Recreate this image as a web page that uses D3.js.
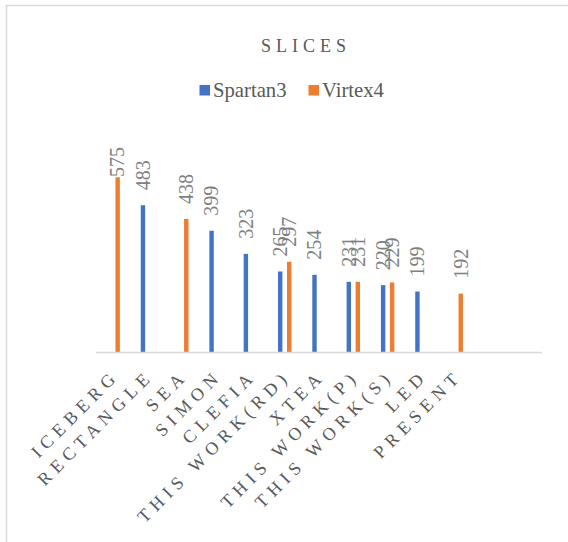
<!DOCTYPE html>
<html>
<head>
<meta charset="utf-8">
<script src="https://cdn.jsdelivr.net/npm/d3@7"></script>
<style>
  body { margin: 0; background: #fff; }
  svg { display: block; }
</style>
</head>
<body>
<svg id="chart" width="568" height="542"></svg>
<script>
// categories (last two are empty slots on the axis)
var categories = ["ICEBERG", "RECTANGLE", "SEA", "SIMON", "CLEFIA", "THIS WORK(RD)",
    "XTEA", "THIS WORK(P)", "THIS WORK(S)", "LED", "PRESENT", "", ""];
var spartan3 = [null, 483, null, 399, 323, 265, 254, 231, 220, 199, null, null, null];
var virtex4 = [575, null, 438, null, null, 297, null, 231, 229, null, 192, null, null];
var seriesNames = ["Spartan3", "Virtex4"];
var seriesColors = ["#4472c4", "#ed7d31"];
var yMax = 700;

var font = "'Liberation Serif'";
var svg = d3.select("#chart");

var x = d3.scaleBand()
    .domain(d3.range(categories.length))
    .range([96, 542])
    .padding(0);

var y = d3.scaleLinear()
    .domain([0, yMax])
    .range([352, 139.3]);

var barW = 4.4,
    offset = 4.5,
    labelGap = 15,
    labelTop = 147;

// chart border (cropped on the right and bottom)
svg.append("rect")
    .attr("x", 6.5).attr("y", 5.5)
    .attr("width", 600).attr("height", 600)
    .attr("fill", "none")
    .attr("stroke", "#d9d9d9")
    .attr("stroke-width", 1.5);

// title
svg.append("text")
    .attr("x", 261).attr("y", 52)
    .style("font-family", font)
    .attr("font-size", 18)
    .attr("letter-spacing", "5px")
    .attr("fill", "#595959")
    .text("SLICES");

// legend
var legendX = [199.5, 308.5];
var legend = svg.append("g").selectAll("g")
    .data(seriesNames)
    .enter().append("g")
    .attr("transform", function(d, i){ return "translate(" + legendX[i] + ",0)"; });
legend.append("rect")
    .attr("x", 0).attr("y", 85)
    .attr("width", 10.5).attr("height", 10.5)
    .attr("fill", function(d, i){ return seriesColors[i]; });
legend.append("text")
    .attr("x", 13.5).attr("y", 96.5)
    .style("font-family", font)
    .attr("font-size", 20.7)
    .attr("fill", "#595959")
    .text(function(d){ return d; });

// bars
var series = [spartan3, virtex4];
var bars = [];
series.forEach(function(vals, si){
    vals.forEach(function(v, i){
        if(v === null) return;
        bars.push({ cat: i, value: v, s: si });
    });
});

var barX = function(d){
    return x(d.cat) + x.bandwidth() / 2 + (d.s === 0 ? -offset : offset);
};

svg.append("g")
    .selectAll("rect")
    .data(bars)
    .enter().append("rect")
    .attr("x", function(d){ return barX(d) - barW / 2; })
    .attr("y", function(d){ return y(d.value); })
    .attr("width", barW)
    .attr("height", function(d){ return y(0) - y(d.value); })
    .attr("fill", function(d){ return seriesColors[d.s]; });

// data labels, rotated
var labels = svg.append("g")
    .selectAll("text")
    .data(bars)
    .enter().append("text")
    .style("font-family", font)
    .attr("font-size", 20)
    .attr("fill", "#7f7f7f")
    .attr("dy", "0.34em")
    .text(function(d){ return d.value; });

labels.attr("transform", function(d){
    var len = this.getComputedTextLength();
    var yy = y(d.value) - labelGap;
    if(yy - len < labelTop) yy = labelTop + len;
    return "translate(" + barX(d) + "," + yy + ") rotate(-90)";
});

// x axis line
svg.append("line")
    .attr("x1", 96).attr("x2", 542)
    .attr("y1", 352.5).attr("y2", 352.5)
    .attr("stroke", "#d9d9d9")
    .attr("stroke-width", 1.5);

// category labels
svg.append("g")
    .selectAll("text")
    .data(categories)
    .enter().append("text")
    .style("font-family", font)
    .attr("font-size", 18)
    .attr("letter-spacing", "5.5px")
    .attr("fill", "#595959")
    .attr("text-anchor", "end")
    .attr("transform", function(d, i){
        return "translate(" + (x(i) + x.bandwidth() / 2 + 7) + ",377) rotate(-45)";
    })
    .text(function(d){ return d; });
</script>
</body>
</html>
